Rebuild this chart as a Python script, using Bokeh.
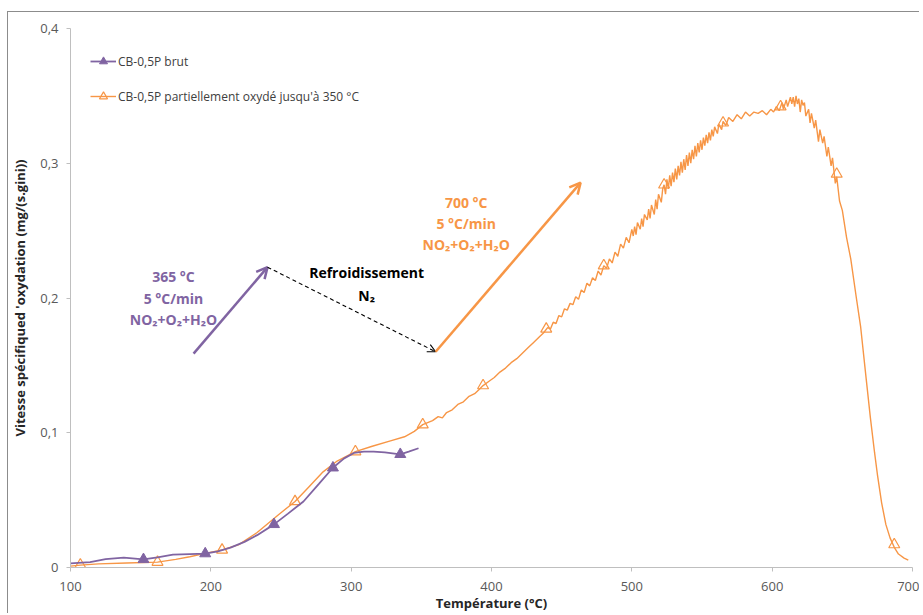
from bokeh.plotting import figure
from bokeh.models import Arrow, OpenHead, Label, Legend, LegendItem, FixedTicker
from bokeh.embed import file_html
from bokeh.resources import INLINE

# ---------------- data ----------------
x_ticks = [100, 200, 300, 400, 500, 600, 700]
x_tick_labels = ["100", "200", "300", "400", "500", "600", "700"]
y_ticks = [0, 0.1, 0.2, 0.3, 0.4]
y_tick_labels = ["0", "0,1", "0,2", "0,3", "0,4"]

# CB-0,5P brut (purple)
brut_T = [100, 114, 125, 138, 152, 162, 173, 185, 196, 205, 214, 224, 233, 245, 255,
          266, 277, 287, 295, 302, 309, 316, 324, 335, 341, 348]
brut_V = [0.0030, 0.0040, 0.0062, 0.0074, 0.0060, 0.0075, 0.0095, 0.0100, 0.0103, 0.0120,
          0.0148, 0.0190, 0.0240, 0.0320, 0.0400, 0.0490, 0.0620, 0.0740, 0.0810, 0.0850,
          0.0860, 0.0860, 0.0855, 0.0840, 0.0860, 0.0885]
brut_mk_T = [152, 196, 245, 287, 335]
brut_mk_V = [0.0060, 0.0103, 0.0320, 0.0740, 0.0840]

# CB-0,5P partiellement oxydé jusqu'à 350 °C (orange)
ox_T = [100, 107, 120, 140, 162, 175, 185, 196, 208, 220, 233, 248, 260, 270, 280, 290,
        303, 315, 328, 338, 345, 351, 358, 362, 365, 368, 372, 376, 380, 384, 388, 391,
        394, 398, 402, 406, 410, 414, 418, 422, 426, 430, 434, 437,
        440, 442, 444, 446, 448, 450, 452, 454, 456, 458, 460, 462, 464, 466, 468, 470,
        472, 474, 476, 478, 480, 482, 484, 486, 488, 490, 492, 494, 496, 498,
        500, 501, 502, 503, 504, 506, 507, 508, 509, 511, 512, 513, 514, 516, 517, 518,
        519, 521, 522, 523, 524, 525, 526, 527, 528, 529, 530, 531, 532, 533, 534, 535,
        536, 537, 538, 539, 540, 541, 542, 543, 544, 545, 546, 547, 548, 549, 550, 551,
        552, 553, 554, 555, 556, 557, 558, 559, 561, 562, 564, 565, 567, 569, 572, 575,
        578, 581, 584, 587, 590, 593, 596, 599, 601, 603, 605, 607, 608, 610, 611, 613,
        614, 615, 616, 617, 618, 619, 620, 621, 622, 623, 624, 626, 627, 628, 630, 631,
        633, 634, 636, 637, 639, 640, 642, 643, 645, 646, 648, 650, 653, 656, 660, 663,
        667, 670, 673, 675, 678, 681, 684, 687, 690, 694, 697]
ox_V = [0.0010, 0.0018, 0.0027, 0.0033, 0.0040, 0.0060, 0.0080, 0.0105, 0.0130, 0.0170,
        0.0260, 0.0390, 0.0490, 0.0600, 0.0710, 0.0790, 0.0860, 0.0900, 0.0940, 0.0970,
        0.1010, 0.1060, 0.1090, 0.1120, 0.1110, 0.1150, 0.1170, 0.1210, 0.1230, 0.1270,
        0.1290, 0.1320, 0.1350, 0.1380, 0.1410, 0.1450, 0.1480, 0.1520, 0.1550, 0.1590,
        0.1630, 0.1670, 0.1710, 0.1740,
        0.1780, 0.1770, 0.1820, 0.1810, 0.1870, 0.1860, 0.1920, 0.1910, 0.1960, 0.1950,
        0.2010, 0.1990, 0.2060, 0.2040, 0.2110, 0.2090, 0.2150, 0.2130, 0.2200, 0.2170,
        0.2240, 0.2220, 0.2290, 0.2260, 0.2340, 0.2310, 0.2400, 0.2370, 0.2450, 0.2410,
        0.2510, 0.2460, 0.2530, 0.2470, 0.2560, 0.2510, 0.2590, 0.2530, 0.2620, 0.2580,
        0.2660, 0.2590, 0.2690, 0.2620, 0.2730, 0.2660, 0.2770, 0.2710, 0.2810, 0.2840,
        0.2770, 0.2880, 0.2810, 0.2910, 0.2830, 0.2930, 0.2860, 0.2960, 0.2880, 0.2980,
        0.2910, 0.3010, 0.2930, 0.3030, 0.2950, 0.3060, 0.2980, 0.3080, 0.3000, 0.3100,
        0.3030, 0.3130, 0.3050, 0.3150, 0.3080, 0.3170, 0.3100, 0.3190, 0.3130, 0.3210,
        0.3150, 0.3230, 0.3170, 0.3250, 0.3200, 0.3270, 0.3220, 0.3290, 0.3250, 0.3310,
        0.3280, 0.3340, 0.3310, 0.3360, 0.3330, 0.3380, 0.3350, 0.3380, 0.3370, 0.3390,
        0.3360, 0.3400, 0.3380, 0.3420, 0.3390, 0.3450, 0.3400, 0.3470, 0.3420, 0.3490,
        0.3440, 0.3490, 0.3420, 0.3500, 0.3440, 0.3480, 0.3380, 0.3470, 0.3430, 0.3450,
        0.3350, 0.3400, 0.3300, 0.3370, 0.3260, 0.3320, 0.3160, 0.3250, 0.3150, 0.3200,
        0.3050, 0.3120, 0.2980, 0.3040, 0.2850, 0.2900, 0.2720, 0.2650, 0.2450, 0.2290,
        0.2000, 0.1790, 0.1400, 0.1110, 0.0850, 0.0690, 0.0480, 0.0320, 0.0220, 0.0150,
        0.0100, 0.0070, 0.0055]
ox_mk_T = [107, 162, 208, 260, 303, 351, 394, 439, 480, 523, 565, 606, 646, 687]
ox_mk_V = [0.0020, 0.0040, 0.0130, 0.0490, 0.0860, 0.1060, 0.1350, 0.1770, 0.2240,
           0.2840, 0.3300, 0.3420, 0.2920, 0.0170]

PURPLE = "#8064A2"
ORANGE = "#F79646"
FONT = "Open Sans"

p = figure(width=912, height=602, x_range=(100, 700), y_range=(0, 0.4),
           output_backend="svg", toolbar_location=None,
           min_border_left=62, min_border_right=8, min_border_top=16, min_border_bottom=44)
p.styles = {"margin-left": "7px", "margin-top": "11px",
            "border-left": "1px solid #8C8C8C", "border-top": "1px solid #8C8C8C"}
p.outline_line_color = None
p.xgrid.visible = False
p.ygrid.visible = False
p.background_fill_color = "white"
p.border_fill_color = "white"

for ax in (p.xaxis[0], p.yaxis[0]):
    ax.axis_line_color = "#BFBFBF"
    ax.major_tick_line_color = "#BFBFBF"
    ax.minor_tick_line_color = None
    ax.major_tick_in = 0
    ax.major_label_text_font = FONT
    ax.major_label_text_font_size = "13px"
    ax.major_label_text_color = "#595959"
    ax.axis_label_text_font = FONT
    ax.axis_label_text_font_style = "bold"
    ax.axis_label_text_color = "#262626"

p.xaxis.ticker = FixedTicker(ticks=x_ticks)
p.xaxis.major_label_overrides = dict(zip(x_ticks, x_tick_labels))
p.yaxis.ticker = FixedTicker(ticks=y_ticks)
p.yaxis.major_label_overrides = dict(zip(y_ticks, y_tick_labels))
p.xaxis.major_tick_out = 4
p.xaxis.major_label_standoff = 10
p.xaxis.axis_label = "Température (°C)"
p.xaxis.axis_label_standoff = 0
p.xaxis.axis_label_text_font_size = "13px"
p.yaxis.major_tick_out = 4
p.yaxis.major_label_standoff = 8
p.yaxis.axis_label = "Vitesse spécifiqued 'oxydation (mg/(s.gini))"
p.yaxis.axis_label_standoff = 8
p.yaxis.axis_label_text_font_size = "13px"

ox_line = p.line(ox_T, ox_V, line_color=ORANGE, line_width=1.4)
ox_mk = p.scatter(ox_mk_T, ox_mk_V, marker="triangle", size=11, line_color=ORANGE,
                  fill_color="white", fill_alpha=0.0, line_width=1.2)
brut_line = p.line(brut_T, brut_V, line_color=PURPLE, line_width=1.8)
brut_mk = p.scatter(brut_mk_T, brut_mk_V, marker="triangle", size=11, line_color=PURPLE,
                    fill_color=PURPLE, line_width=1)

legend = Legend(items=[
    LegendItem(label="CB-0,5P brut", renderers=[brut_line, brut_mk]),
    LegendItem(label="CB-0,5P partiellement oxydé jusqu'à 350 °C", renderers=[ox_line, ox_mk]),
], location=(20, 461), margin=0, padding=0, spacing=15, glyph_width=26,
    label_text_font=FONT, label_text_font_size="12px", label_text_color="#404040",
    label_standoff=2, background_fill_alpha=0, border_line_color=None)
p.add_layout(legend)

# arrows
p.add_layout(Arrow(x_start=187.7, y_start=0.1587, x_end=240.4, y_end=0.2229,
                   line_color=PURPLE, line_width=2.5,
                   end=OpenHead(size=11, line_color=PURPLE, line_width=2.5)))
p.add_layout(Arrow(x_start=240.4, y_start=0.2229, x_end=360.2, y_end=0.1601,
                   line_color="black", line_width=1.1, line_dash="4 3",
                   end=OpenHead(size=8, line_color="black", line_width=1.1)))
p.add_layout(Arrow(x_start=360.2, y_start=0.1601, x_end=463.5, y_end=0.2856,
                   line_color=ORANGE, line_width=2.5,
                   end=OpenHead(size=11, line_color=ORANGE, line_width=2.5)))

def lab(x, y, t, color):
    p.add_layout(Label(x=x, y=y, text=t, text_align="center", text_baseline="middle",
                       text_font=FONT, text_font_size="14px", text_font_style="bold",
                       text_color=color))

lab(173.4, 0.2160, "365 °C", PURPLE)
lab(173.4, 0.2000, "5 °C/min", PURPLE)
lab(173.4, 0.1840, "NO₂+O₂+H₂O", PURPLE)
lab(311.0, 0.2190, "Refroidissement", "black")
lab(311.0, 0.2020, "N₂", "black")
lab(382.0, 0.2710, "700 °C", ORANGE)
lab(382.0, 0.2555, "5 °C/min", ORANGE)
lab(382.0, 0.2395, "NO₂+O₂+H₂O", ORANGE)

open("out.html", "w").write(file_html(p, INLINE))
